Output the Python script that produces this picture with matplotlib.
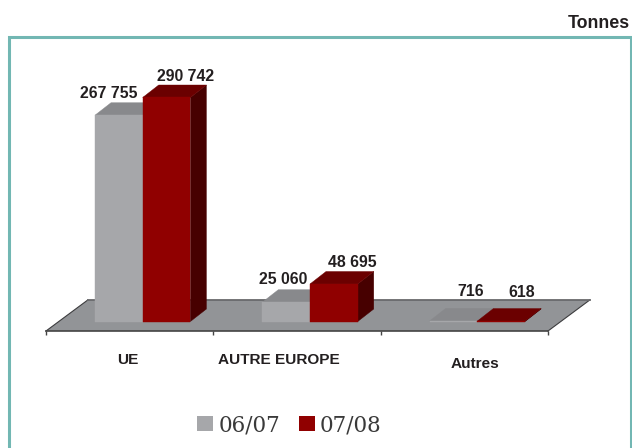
import matplotlib
matplotlib.use('Agg')
import matplotlib.pyplot as plt
from matplotlib.patches import Polygon, Patch, Rectangle

plt.rcParams['font.family'] = ['Liberation Sans', 'DejaVu Sans']

# Data
categories = ['UE', 'AUTRE EUROPE', 'Autres']
values_0607 = [267755, 25060, 716]
values_0708 = [290742, 48695, 618]

# Colours
grey_front = '#a6a7aa'
grey_top = '#88898c'
red_front = '#900000'
red_top = '#6b0000'
red_side = '#470000'
plate_col = '#929497'
teal = '#72b7b3'
text_col = '#231f20'

# 3D look, in axis units
bar_width = 0.285
bar_start = 0.293
depth_x = 0.0956
depth_y = 16200
plate_dx = 0.25
plate_dy = 40300

W, H = 632, 448


def px(x, y):
    # pixel position in the picture -> figure fraction
    return x / W, 1 - y / H


def draw_bar(ax, x0, value, front, top, side, z):
    x1 = x0 + bar_width
    ax.add_patch(Polygon([(x1, 0), (x1 + depth_x, depth_y), (x1 + depth_x, value + depth_y), (x1, value)],
                         fc=side, ec=side, lw=0.3, zorder=z, clip_on=False))
    ax.add_patch(Polygon([(x0, value), (x0 + depth_x, value + depth_y), (x1 + depth_x, value + depth_y), (x1, value)],
                         fc=top, ec=top, lw=0.3, zorder=z, clip_on=False))
    ax.add_patch(Rectangle((x0, 0), bar_width, value, fc=front, ec=front, lw=0.3, zorder=z + 0.1, clip_on=False))


fig = plt.figure(figsize=(W / 100, H / 100), dpi=100)
ax = fig.add_axes([46 / W, 1 - 331 / H, (548 - 46) / W, (331 - 60) / H])
ax.patch.set_visible(False)
ax.set_xlim(0, 3)
ax.set_ylim(-12330, 339400)

# Floor
floor_y = ax.get_ylim()[0]
ax.add_patch(Polygon([(0, floor_y), (3, floor_y), (3 + plate_dx, floor_y + plate_dy), (plate_dx, floor_y + plate_dy)],
                     fc=plate_col, ec='none', zorder=1, clip_on=False))
ax.plot([0, plate_dx], [floor_y, floor_y + plate_dy], color='#3c3c3e', lw=0.8, zorder=1.5, clip_on=False)
ax.plot([3, 3 + plate_dx], [floor_y, floor_y + plate_dy], color='#3c3c3e', lw=0.8, zorder=1.5, clip_on=False)
ax.plot([plate_dx, 3 + plate_dx], [floor_y + plate_dy, floor_y + plate_dy], color='#69696c', lw=1.3, zorder=1.5,
        clip_on=False)

# Bars
for i in range(len(categories)):
    draw_bar(ax, i + bar_start, values_0607[i], grey_front, grey_top, grey_top, 2 + i)
    draw_bar(ax, i + bar_start + bar_width, values_0708[i], red_front, red_top, red_side, 2.5 + i)

# Axis
ax.set_yticks([])
ax.set_xticks([0, 1, 2, 3])
ax.set_xticklabels([])
ax.tick_params(axis='x', length=3, width=1, color='#444444')
for s in ['left', 'right', 'top']:
    ax.spines[s].set_visible(False)
ax.spines['bottom'].set_color('#444444')
ax.spines['bottom'].set_linewidth(1.2)

# Value labels
label_pos = [(109, 93), (283, 279.5), (470.5, 291)]
label_pos2 = [(185.5, 76.5), (352.5, 262), (522, 292)]
for v, p in zip(values_0607, label_pos):
    fig.text(*px(*p), f'{v:,}'.replace(',', ' '), ha='center', va='center', fontsize=11.4,
             fontweight='bold', color=text_col)
for v, p in zip(values_0708, label_pos2):
    fig.text(*px(*p), f'{v:,}'.replace(',', ' '), ha='center', va='center', fontsize=11.4,
             fontweight='bold', color=text_col)

# Category labels
cat_pos = [(128, 360), (279, 360), (474.5, 364)]
for c, p in zip(categories, cat_pos):
    fig.text(*px(*p), c, ha='center', va='center', fontsize=11.1, fontweight='bold', color=text_col)

fig.text(*px(630, 23), 'Tonnes', ha='right', va='center', fontsize=12.8, fontweight='bold', color=text_col)

# Frame
fig.add_artist(Rectangle(px(8.7, 460), (630.5 - 8.7) / W, (460 - 37.5) / H, fc='none', ec=teal, lw=2.2,
                         transform=fig.transFigure))

# Legend
handles = [Patch(fc=grey_front, ec='none', label='06/07'), Patch(fc=red_front, ec='none', label='07/08')]
fig.legend(handles=handles, loc='center', bbox_to_anchor=px(289.5, 425), ncol=2, frameon=False,
           prop={'family': 'DejaVu Serif', 'size': 15.5}, labelcolor='#3a3a3a', handlelength=0.74,
           handleheight=0.74, handletextpad=0.23, columnspacing=0.88, borderpad=0, borderaxespad=0)

fig.savefig('out.png', dpi=100)
